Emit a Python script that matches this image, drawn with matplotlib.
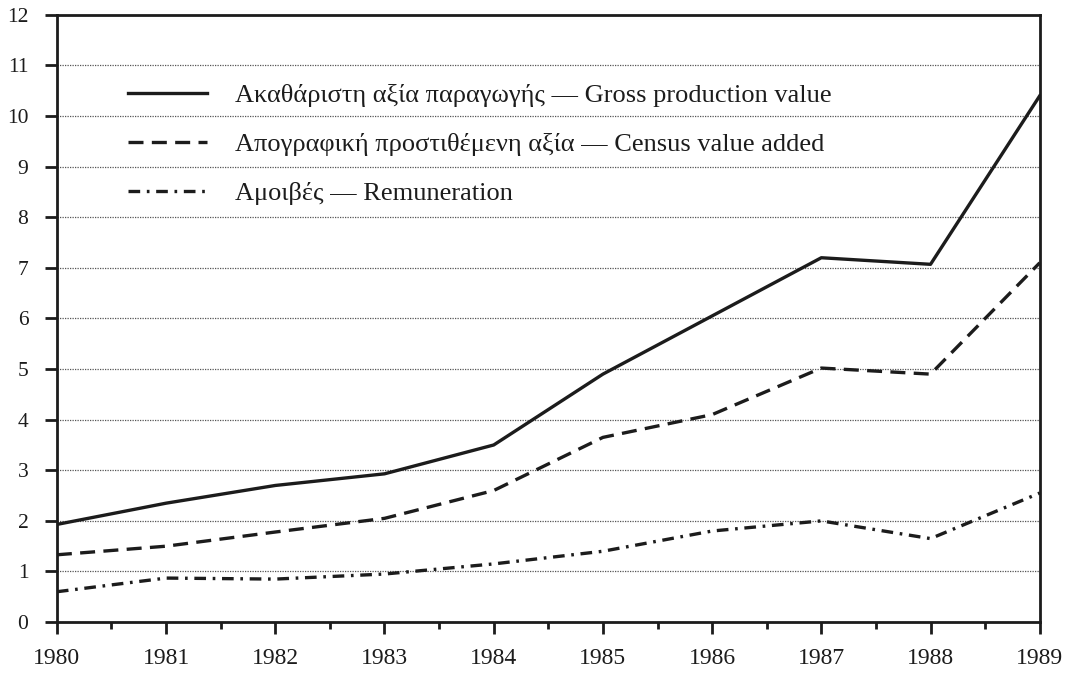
import matplotlib.pyplot as plt
from matplotlib.ticker import MultipleLocator

plt.rcParams['font.family'] = ['Liberation Serif', 'DejaVu Serif']

# 数据
years = [1980, 1981, 1982, 1983, 1984, 1985, 1986, 1987, 1988, 1989]
gross = [1.93, 2.35, 2.7, 2.93, 3.5, 4.9, 6.05, 7.2, 7.07, 10.4]
census = [1.33, 1.5, 1.78, 2.05, 2.6, 3.65, 4.1, 5.02, 4.9, 7.1]
remun = [0.6, 0.87, 0.85, 0.95, 1.15, 1.4, 1.8, 2.0, 1.65, 2.55]

labels = [
    "Ακαθάριστη αξία παραγωγής — Gross production value",
    "Απογραφική προστιθέμενη αξία — Census value added",
    "Αμοιβές — Remuneration",
]

ink = '#1c1c1c'

fig = plt.figure(figsize=(10.73, 6.74), dpi=100)
ax = fig.add_axes([0.053, 0.077, 0.916, 0.901])

ax.plot(years, gross, color=ink, lw=2.4, linestyle='-', label=labels[0])
ax.plot(years, census, color=ink, lw=2.4, linestyle=(0, (4.5, 2.5)), label=labels[1])
ax.plot(years, remun, color=ink, lw=2.4, linestyle=(0, (3.5, 2, 0.8, 2)), label=labels[2])

ax.set_xlim(1980, 1989)
ax.set_ylim(0, 12)
ax.set_xticks(years)
ax.xaxis.set_minor_locator(MultipleLocator(0.5))
ax.set_yticks(range(0, 13))

# 虚线网格
ax.grid(axis='y', linestyle=(0, (1, 1)), color='#555555', lw=0.9)
ax.set_axisbelow(True)

for s in ax.spines.values():
    s.set_linewidth(2)
    s.set_color(ink)

ax.tick_params(axis='x', which='major', direction='out', length=8.5, width=2,
               labelsize=17, pad=10, colors=ink)
ax.tick_params(axis='x', which='minor', direction='out', length=5, width=2, colors=ink)
ax.tick_params(axis='y', which='major', direction='out', length=8.5, width=2,
               labelsize=15.5, pad=12, colors=ink)

leg = ax.legend(loc='upper left', bbox_to_anchor=(0.048, 0.926), frameon=False,
                fontsize=19, handlelength=3.0, handletextpad=1.06, labelspacing=0.97)
for t in leg.get_texts():
    t.set_color(ink)

plt.savefig('out.png', dpi=100)
